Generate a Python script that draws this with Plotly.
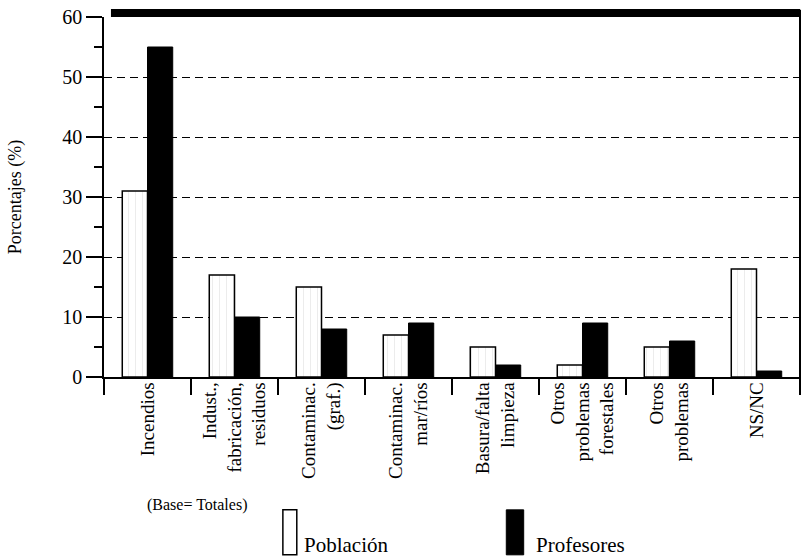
import plotly.graph_objects as go

categories = [
    "Incendios",
    "Indust.,<br>fabricación,<br>residuos",
    "Contaminac.<br>(graf.)",
    "Contaminac.<br>mar/ríos",
    "Basura/falta<br>limpieza",
    "Otros<br>problemas<br>forestales",
    "Otros<br>problemas",
    "NS/NC",
]
poblacion = [31, 17, 15, 7, 5, 2, 5, 18]
profesores = [55, 10, 8, 9, 2, 9, 6, 1]
y_ticks = [0, 10, 20, 30, 40, 50, 60]

FONT = "Liberation Serif"

fig = go.Figure()
fig.add_trace(go.Bar(
    x=categories, y=poblacion, name="Población",
    marker=dict(color="white", line=dict(color="black", width=1.5),
                pattern=dict(shape="|", fgcolor="#d0d0d0", bgcolor="white", size=7, solidity=0.12)),
))
fig.add_trace(go.Bar(
    x=categories, y=profesores, name="Profesores",
    marker=dict(color="black", line=dict(color="black", width=1)),
))

fig.update_layout(
    width=803, height=557,
    margin=dict(l=104, r=3, t=17, b=180),
    paper_bgcolor="white", plot_bgcolor="white",
    barmode="group", bargap=0.42, bargroupgap=0,
    showlegend=False,
    font=dict(family=FONT, color="black", size=18),
)

fig.update_yaxes(
    range=[0, 60], tickvals=y_ticks,
    showline=True, linecolor="black", linewidth=1.5,
    ticks="outside", ticklen=16, tickcolor="black", tickwidth=1.5,
    tickfont=dict(size=20, family=FONT),
    showgrid=True, gridcolor="black", gridwidth=1, griddash="8px,5px",
    zeroline=False,
    minor=dict(dtick=5, ticks="outside", ticklen=8, tickcolor="black", showgrid=False),
    title=dict(text="Porcentajes (%)", font=dict(size=18, family=FONT), standoff=36),
)
fig.update_xaxes(
    type="category",
    showline=True, linecolor="black", linewidth=1.5,
    ticks="outside", tickson="boundaries", ticklen=16, tickcolor="black", tickwidth=1.5,
    tickangle=-90, tickfont=dict(size=19, family=FONT),
    ticklabelstandoff=-4,
    showgrid=False, zeroline=False,
)

# thick top border and right border
fig.add_shape(type="rect", xref="paper", yref="paper", x0=0.01, x1=1.0, y0=1.0, y1=1.022,
              fillcolor="black", line=dict(width=0))
fig.add_shape(type="line", xref="paper", yref="paper", x0=1.0, x1=1.0, y0=-0.045, y1=1.02,
              line=dict(color="black", width=2))

# legend drawn manually
fig.add_annotation(xref="paper", yref="paper", x=0.059, y=-0.356, text="(Base= Totales)",
                   showarrow=False, xanchor="left", yanchor="middle", font=dict(size=16))
fig.add_shape(type="rect", xref="paper", yref="paper", x0=0.257, x1=0.277, y0=-0.369, y1=-0.494,
              fillcolor="white", line=dict(color="black", width=1.5))
fig.add_annotation(xref="paper", yref="paper", x=0.284, y=-0.467, text="Población",
                   showarrow=False, xanchor="left", yanchor="middle", font=dict(size=21))
fig.add_shape(type="rect", xref="paper", yref="paper", x0=0.578, x1=0.603, y0=-0.369, y1=-0.494,
              fillcolor="black", line=dict(color="black", width=1))
fig.add_annotation(xref="paper", yref="paper", x=0.618, y=-0.467, text="Profesores",
                   showarrow=False, xanchor="left", yanchor="middle", font=dict(size=21))

fig.write_html("out.html", config={"displayModeBar": False},
               post_script="document.body.style.margin='0';document.body.style.overflow='hidden';")
